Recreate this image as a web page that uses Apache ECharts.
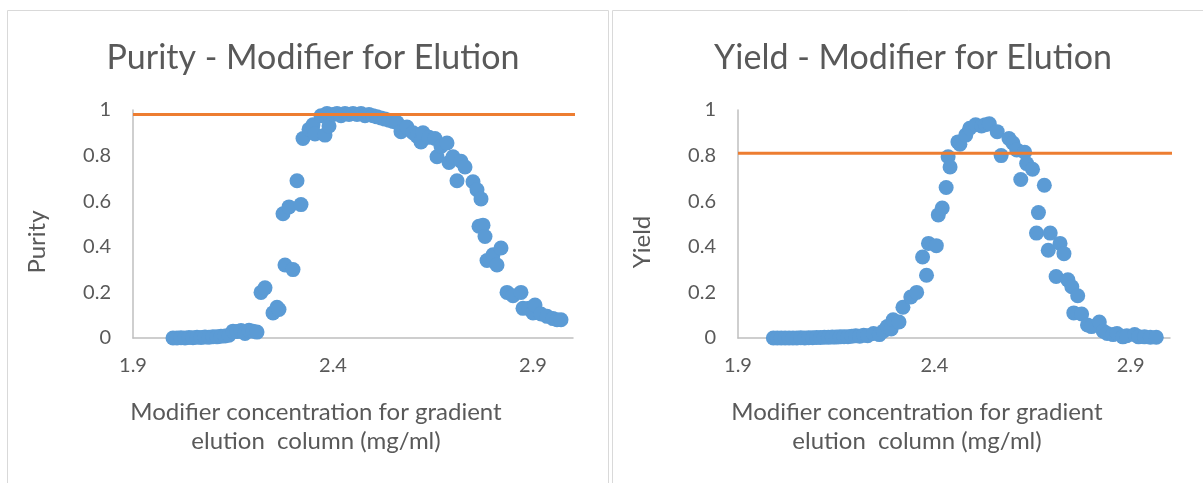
<!DOCTYPE html>
<html>
<head>
<meta charset="utf-8">
<script src="https://cdn.jsdelivr.net/npm/echarts@6/dist/echarts.min.js"></script>
<style>
    html, body { margin: 0; padding: 0; background: #fff; }
    #chart { width: 1203px; height: 483px; }
</style>
</head>
<body>
<div id="chart"></div>
<script>
// 数据：Purity
const purityX = [2.00, 2.01, 2.02, 2.03, 2.04, 2.05, 2.06, 2.07, 2.08, 2.09, 2.10, 2.11, 2.12, 2.13, 2.14,
    2.15, 2.16, 2.17, 2.18, 2.19, 2.20, 2.21, 2.22, 2.23, 2.25, 2.26, 2.265, 2.275, 2.28, 2.29, 2.30,
    2.31, 2.32, 2.325, 2.34, 2.35, 2.355, 2.37, 2.38, 2.385, 2.39, 2.40, 2.41, 2.42, 2.43, 2.44, 2.45,
    2.46, 2.47, 2.48, 2.49, 2.50, 2.51, 2.52, 2.53, 2.54, 2.55, 2.56, 2.57, 2.585, 2.60, 2.61, 2.62,
    2.625, 2.64, 2.655, 2.66, 2.67, 2.685, 2.69, 2.70, 2.71, 2.72, 2.73, 2.75, 2.76, 2.765, 2.77, 2.775,
    2.78, 2.785, 2.80, 2.81, 2.82, 2.835, 2.85, 2.87, 2.875, 2.89, 2.90, 2.905, 2.92, 2.935, 2.95, 2.96, 2.97];
const purityY = [0.000, 0.000, 0.001, 0.000, 0.002, 0.001, 0.003, 0.002, 0.004, 0.003, 0.006, 0.005, 0.008, 0.009, 0.012,
    0.030, 0.028, 0.033, 0.020, 0.034, 0.030, 0.026, 0.200, 0.220, 0.110, 0.135, 0.125, 0.545, 0.320, 0.575, 0.300,
    0.690, 0.585, 0.875, 0.915, 0.935, 0.895, 0.975, 0.890, 0.985, 0.930, 0.980, 0.985, 0.975, 0.985, 0.980, 0.985,
    0.980, 0.985, 0.975, 0.980, 0.975, 0.970, 0.965, 0.960, 0.955, 0.950, 0.945, 0.905, 0.925, 0.900, 0.885, 0.860,
    0.900, 0.880, 0.875, 0.795, 0.840, 0.855, 0.770, 0.795, 0.690, 0.775, 0.750, 0.685, 0.650, 0.490, 0.610, 0.495,
    0.445, 0.340, 0.365, 0.320, 0.395, 0.200, 0.185, 0.200, 0.130, 0.130, 0.110, 0.145, 0.105, 0.095, 0.085, 0.080, 0.080];
const purityTarget = 0.98; // 橙色参考线

// 数据：Yield
const yieldX = [1.99, 2.00, 2.01, 2.02, 2.03, 2.04, 2.05, 2.06, 2.07, 2.08, 2.09, 2.10, 2.11, 2.12, 2.13, 2.14,
    2.15, 2.16, 2.17, 2.18, 2.19, 2.20, 2.21, 2.22, 2.23, 2.245, 2.26, 2.27, 2.28, 2.29, 2.295, 2.31, 2.32,
    2.34, 2.355, 2.37, 2.38, 2.385, 2.405, 2.41, 2.42, 2.43, 2.435, 2.44, 2.46, 2.465, 2.48, 2.49, 2.505,
    2.52, 2.53, 2.54, 2.56, 2.57, 2.59, 2.60, 2.61, 2.62, 2.63, 2.635, 2.65, 2.66, 2.665, 2.68, 2.69, 2.695,
    2.71, 2.72, 2.73, 2.74, 2.75, 2.755, 2.765, 2.775, 2.79, 2.80, 2.82, 2.83, 2.84, 2.855, 2.865, 2.88,
    2.89, 2.91, 2.92, 2.935, 2.95, 2.965];
const yieldY = [0.000, 0.000, 0.000, 0.000, 0.000, 0.000, 0.000, 0.001, 0.000, 0.001, 0.001, 0.002, 0.002, 0.003, 0.003, 0.004,
    0.004, 0.005, 0.006, 0.006, 0.008, 0.010, 0.008, 0.012, 0.010, 0.020, 0.015, 0.030, 0.050, 0.040, 0.080, 0.070, 0.135,
    0.180, 0.200, 0.355, 0.275, 0.415, 0.405, 0.540, 0.570, 0.660, 0.795, 0.750, 0.860, 0.850, 0.890, 0.920, 0.935,
    0.930, 0.935, 0.940, 0.905, 0.800, 0.875, 0.855, 0.825, 0.695, 0.815, 0.765, 0.740, 0.460, 0.550, 0.670, 0.385, 0.460,
    0.270, 0.415, 0.370, 0.255, 0.225, 0.110, 0.185, 0.105, 0.057, 0.050, 0.070, 0.030, 0.020, 0.015, 0.020, 0.005,
    0.010, 0.015, 0.005, 0.005, 0.003, 0.003];
const yieldTarget = 0.81; // 橙色参考线

const xMin = 1.9, xMax = 3.0; // x轴范围
const titles = ["Purity - Modifier for Elution", "Yield - Modifier for Elution"];
const yNames = ["Purity", "Yield"];
const xName = "Modifier concentration for gradient\nelution  column (mg/ml)";

(function () {
    const my_echart = echarts.init(document.getElementById("chart")); //实例化echarts对象
    const font = "Lato";
    const textColor = "#595959";
    const axisColor = "#bfbfbf";
    const toPairs = (xs, ys) => xs.map((x, i) => [x, ys[i]]);

    const makeX = function (gridIndex) {
        return {
            type: "value",
            gridIndex: gridIndex,
            min: xMin,
            max: xMax,
            interval: 0.5,
            name: xName,
            nameLocation: "middle",
            nameGap: 60,
            nameTextStyle: { color: textColor, fontFamily: font, fontSize: 24, lineHeight: 29, padding: [0, 74, 0, 0] }, //标题整体左移
            axisLine: { lineStyle: { color: axisColor, width: 1.5 } },
            axisTick: { show: false },
            splitLine: { show: false },
            axisLabel: { color: textColor, fontFamily: font, fontSize: 20, margin: 18, showMaxLabel: false }
        };
    };
    const makeY = function (gridIndex, name) {
        return {
            type: "value",
            gridIndex: gridIndex,
            min: 0,
            max: 1,
            interval: 0.2,
            name: name,
            nameLocation: "middle",
            nameGap: 84,
            nameTextStyle: { color: textColor, fontFamily: font, fontSize: 24, padding: [0, 36, 0, 0] }, //标题整体下移
            axisLine: { show: true, lineStyle: { color: axisColor, width: 1.5 } },
            axisTick: { show: false },
            splitLine: { show: false },
            axisLabel: { color: textColor, fontFamily: font, fontSize: 20, margin: 22 }
        };
    };
    const makeDots = function (i, xs, ys) {
        return {
            type: "scatter",
            xAxisIndex: i,
            yAxisIndex: i,
            symbolSize: 15,
            itemStyle: { color: "#5b9bd5", opacity: 1 },
            data: toPairs(xs, ys),
            z: 2
        };
    };
    const makeTarget = function (i, value) {
        return {
            type: "line",
            xAxisIndex: i,
            yAxisIndex: i,
            showSymbol: false,
            clip: false,
            lineStyle: { color: "#ed7d31", width: 3 },
            data: [[xMin, value], [xMax + 0.03, value]],
            z: 3
        };
    };

    let option = {
        animation: false,
        title: [
            { text: titles[0], left: 308, top: 36, textAlign: "center", textStyle: { color: textColor, fontFamily: font, fontSize: 34, fontWeight: "normal" } },
            { text: titles[1], left: 908, top: 36, textAlign: "center", textStyle: { color: textColor, fontFamily: font, fontSize: 34, fontWeight: "normal" } }
        ],
        graphic: [ //两个图表的外框
            { type: "rect", shape: { x: 7.5, y: 10.5, width: 601, height: 520 }, style: { fill: null, stroke: "#d9d9d9", lineWidth: 1 } },
            { type: "rect", shape: { x: 612.5, y: 10.5, width: 620, height: 520 }, style: { fill: null, stroke: "#d9d9d9", lineWidth: 1 } }
        ],
        grid: [
            { left: 133, top: 110, width: 440, height: 228 },
            { left: 738, top: 110, width: 432, height: 228 }
        ],
        xAxis: [makeX(0), makeX(1)],
        yAxis: [makeY(0, yNames[0]), makeY(1, yNames[1])],
        series: [
            makeDots(0, purityX, purityY),
            makeTarget(0, purityTarget),
            makeDots(1, yieldX, yieldY),
            makeTarget(1, yieldTarget)
        ]
    }; //配置项
    my_echart.setOption(option); //指定配置项
})();
</script>
</body>
</html>
